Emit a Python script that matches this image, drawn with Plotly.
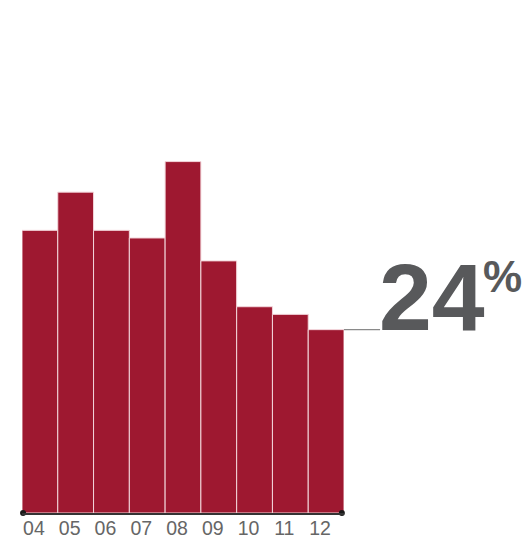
import plotly.graph_objects as go

years = ["04", "05", "06", "07", "08", "09", "10", "11", "12"]
values = [37, 42, 37, 36, 46, 33, 27, 26, 24]
highlight_label = "24"
highlight_value = 24

BAR = "#9e1830"
GRAY = "#58595b"
BIG = "Liberation Sans, Arial, sans-serif"

fig = go.Figure()
fig.add_trace(go.Bar(
    x=list(range(len(years))), y=values,
    marker=dict(color=BAR, line=dict(color="#f3d6db", width=1)),
    hoverinfo="skip",
))
fig.add_trace(go.Scatter(
    x=[-0.47, len(years) - 1 + 0.44], y=[0, 0], mode="markers",
    marker=dict(color="#1a1a1a", size=6), cliponaxis=False, hoverinfo="skip",
))

fig.add_shape(type="line", xref="paper", yref="y", x0=1.0, x1=1.112,
              y0=highlight_value, y1=highlight_value, line=dict(color="#8a8a8a", width=1.2))

fig.add_annotation(
    xref="paper", yref="y", x=1.112, y=28.3,
    xanchor="left", yanchor="middle", xshift=-3,
    text=highlight_label, showarrow=False,
    font=dict(family=BIG, size=95, color=GRAY, weight="bold"),
)
fig.add_annotation(
    xref="paper", yref="y", x=1.42, y=31.0,
    xanchor="left", yanchor="middle", xshift=2,
    text="%", showarrow=False,
    font=dict(family=BIG, size=44, color=GRAY, weight="bold"),
)

fig.update_layout(
    width=527, height=539,
    margin=dict(l=22, r=183, t=0, b=26),
    paper_bgcolor="white", plot_bgcolor="white",
    bargap=0, showlegend=False,
    xaxis=dict(
        tickmode="array", tickvals=list(range(len(years))), ticktext=years,
        range=[-0.5, len(years) - 0.5], showgrid=False, zeroline=False,
        showline=True, linecolor="#333333", linewidth=1.5, ticks="",
        ticklabelstandoff=-3, ticklabelshift=-6,
        tickfont=dict(family="Liberation Sans, Arial", size=19.5, color="#666666"),
        fixedrange=True,
    ),
    yaxis=dict(range=[0, 67.15], visible=False, fixedrange=True),
)

fig.write_html(
    "out.html",
    config={"displayModeBar": False, "staticPlot": True},
    post_script="document.body.style.margin='0';document.body.style.overflow='hidden';",
)
